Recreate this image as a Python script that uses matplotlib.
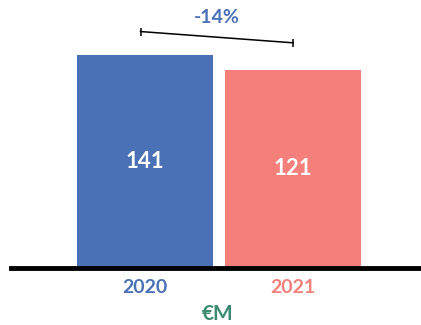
import numpy as np
import matplotlib.pyplot as plt

years = ["2020", "2021"]
values = np.array([141, 121])
colors = ["#4a71b6", "#f47f7b"]
unit_label = "€M"

# axis floor (value axis does not start at zero)
floor = -143

plt.rcParams["font.family"] = ["Lato", "DejaVu Sans"]

fig = plt.figure(figsize=(4.21, 3.25), dpi=100)
ax = fig.add_axes([11 / 421, 0.175, 1 - 11 / 421, 0.825])

x = np.arange(len(years))
ax.bar(x, values - floor, bottom=floor, width=0.92, color=colors, zorder=2)

for xi, v in zip(x, values):
    ax.text(xi, (v + floor) / 2, str(v), ha="center", va="center",
            color="white", fontsize=16, fontweight="bold", zorder=3)

# change bracket between the two bars
change = (values[1] - values[0]) / values[0] * 100
bx = [x[0] - 0.03, x[1]]
by = [values[0] + 31, values[1] + 36]
ax.plot(bx, by, color="black", lw=1.1, zorder=3)
ax.plot(bx, by, ls="none", marker="|", ms=6, mew=1.1, color="black", zorder=3)
ax.text((bx[0] + bx[1]) / 2, by[0] + 19, f"{change:.0f}%", ha="center",
        va="center", color=colors[0], fontsize=14, fontweight="bold")

ax.set_xlim(-0.905, 1.865)
ax.set_ylim(floor, 214)
ax.set_yticks([])
ax.set_xticks(x)
ax.set_xticklabels(years, fontsize=14, fontweight="bold")
for lbl, c in zip(ax.get_xticklabels(), colors):
    lbl.set_color(c)
ax.tick_params(axis="x", length=0, pad=8)

for side in ["top", "right", "left"]:
    ax.spines[side].set_visible(False)
ax.spines["bottom"].set_linewidth(3.5)
ax.spines["bottom"].set_color("black")
ax.spines["bottom"].set_zorder(4)

fig.text(218 / 421, 1 - 314 / 325, unit_label, ha="center", va="center",
         color="#3d8a72", fontsize=15, fontweight="bold")

fig.savefig("out.png", dpi=100)
